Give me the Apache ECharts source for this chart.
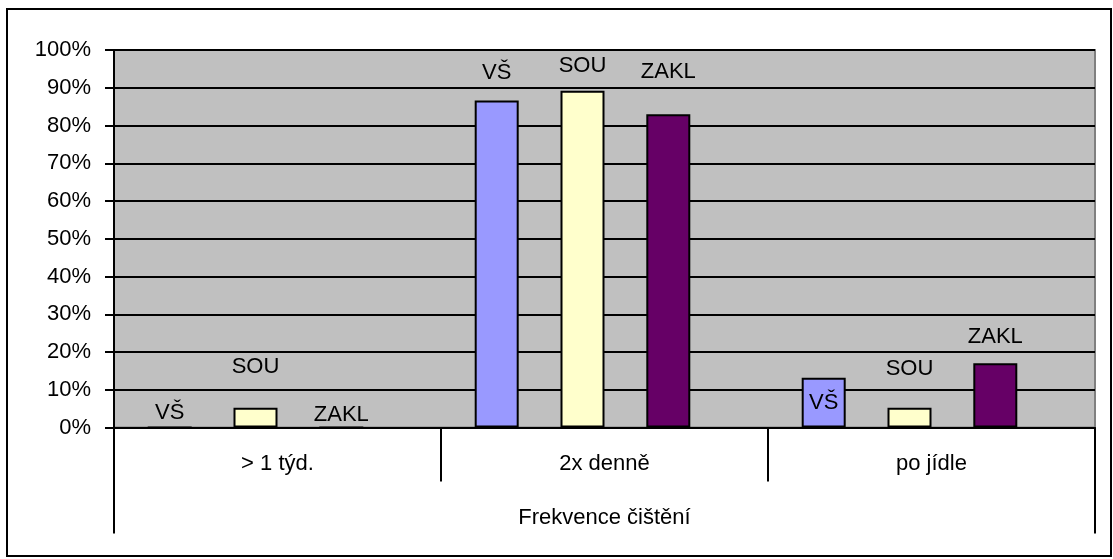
<!DOCTYPE html>
<html>
<head>
<meta charset="utf-8">
<script src="https://cdn.jsdelivr.net/npm/echarts@6/dist/echarts.min.js"></script>
<style>
  html, body { margin: 0; padding: 0; background: #ffffff; }
  #chart { width: 1113px; height: 559px; }
</style>
</head>
<body>
<div id="chart"></div>
<script>
// Frequency of tooth brushing by education level (share of respondents, %)
const categories = ['> 1 týd.', '2x denně', 'po jídle'];
const groupTitle = 'Frekvence čištění';
const seriesNames = ['VŠ', 'SOU', 'ZAKL'];
const valuesVS = [0, 86.6, 13.2];
const valuesSOU = [5.2, 89.2, 5.2];
const valuesZAKL = [0, 83.0, 17.0];
const yMin = 0, yMax = 100, yStep = 10;

// presentation
const seriesColors = ['#9999ff', '#ffffcc', '#660066'];
// gap between bar top and its name label, per bar (null = label inside the bar)
const labelGaps = [
  [3, 17, null],
  [30, 14, 28],
  [1, 31, 15]
];
const FONT = 'Liberation Sans';
const FONT_SIZE = 22;

const seriesValues = [valuesVS, valuesSOU, valuesZAKL];

const plotTop = 50, plotBottom = 131.5;

const chart = echarts.init(document.getElementById('chart'), null, { renderer: 'canvas' });

const series = seriesNames.map((name, s) => ({
  name: name,
  type: 'bar',
  xAxisIndex: 2,
  yAxisIndex: 1,
  barWidth: 44,
  barGap: '95%',
  itemStyle: { color: seriesColors[s], borderColor: '#000000', borderWidth: 2 },
  label: {
    show: true,
    formatter: '{a}',
    color: '#000000',
    fontFamily: FONT,
    fontSize: FONT_SIZE
  },
  data: seriesValues[s].map((v, i) => {
    const gap = labelGaps[s][i];
    return {
      value: v,
      label: gap === null ? { position: 'inside' } : { position: 'top', distance: gap }
    };
  })
}));

chart.setOption({
  animation: false,
  backgroundColor: '#ffffff',
  graphic: [{
    type: 'rect',
    shape: { x: 7, y: 9, width: 1104, height: 547 },
    style: { fill: 'none', stroke: '#000000', lineWidth: 2 },
    z: 100
  }],
  grid: [
    { left: 114, right: 18, top: plotTop, bottom: plotBottom, show: true,
      backgroundColor: '#c0c0c0', borderColor: '#808080', borderWidth: 2 },
    { left: 92, right: 40, top: plotTop, bottom: plotBottom }
  ],
  xAxis: [
    {
      type: 'category', gridIndex: 0, data: categories, position: 'bottom',
      axisLine: { show: true, lineStyle: { color: '#000000', width: 2 } },
      axisTick: { show: true, interval: 0, length: 54, lineStyle: { color: '#000000', width: 2 } },
      axisLabel: { margin: 25, color: '#000000', fontFamily: FONT, fontSize: FONT_SIZE, interval: 0 },
      splitLine: { show: false }
    },
    {
      type: 'category', gridIndex: 0, data: [groupTitle], position: 'bottom',
      axisLine: { show: false },
      axisTick: { show: true, length: 106, lineStyle: { color: '#000000', width: 2 } },
      axisLabel: { margin: 79, color: '#000000', fontFamily: FONT, fontSize: FONT_SIZE },
      splitLine: { show: false }
    },
    {
      type: 'category', gridIndex: 1, data: categories, show: false
    }
  ],
  yAxis: [
    {
      type: 'value', gridIndex: 0, min: yMin, max: yMax, interval: yStep,
      axisLine: { show: true, lineStyle: { color: '#000000', width: 2 } },
      axisTick: { show: true, length: 9, lineStyle: { color: '#000000', width: 2 } },
      axisLabel: { formatter: '{value}%', margin: 23, color: '#000000', fontFamily: FONT, fontSize: FONT_SIZE },
      splitLine: { show: true, lineStyle: { color: '#000000', width: 2 } }
    },
    {
      type: 'value', gridIndex: 1, min: yMin, max: yMax, interval: yStep, show: false,
      splitLine: { show: false }
    }
  ],
  series: series
});
</script>
</body>
</html>
